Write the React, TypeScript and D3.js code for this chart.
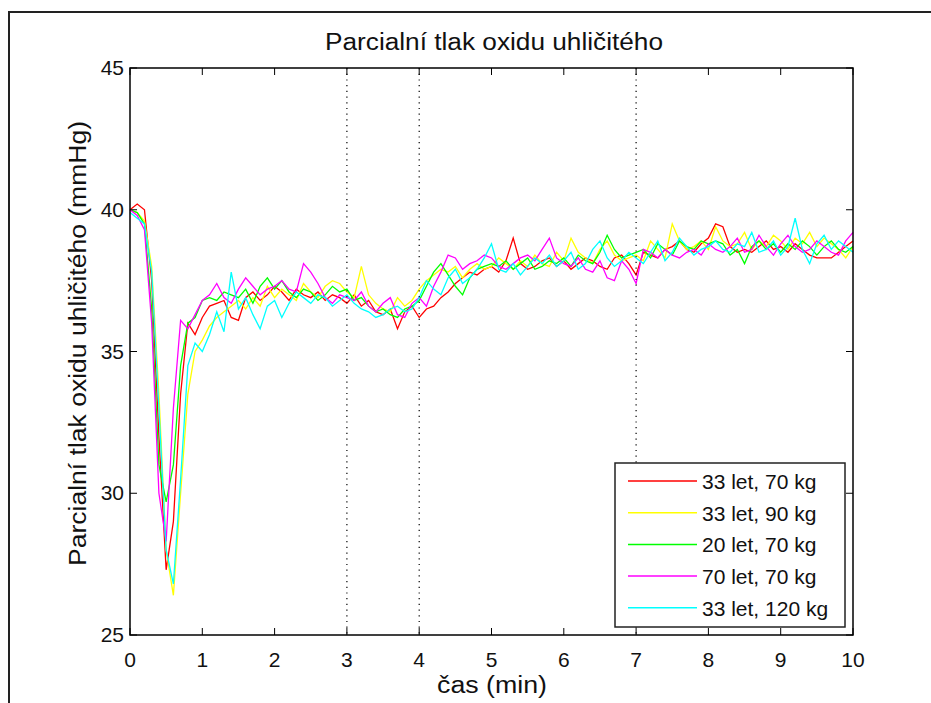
import React from "react";
import * as d3 from "d3";

// time axis: one sample every 0.1 min
const times = d3.range(0, 101).map((i) => i / 10);

const red = [
  40.0, 40.2, 40.0, 37.5, 32.0, 27.3, 29.0, 33.5, 36.0, 35.6,
  36.2, 36.6, 36.7, 36.8, 36.2, 36.1, 36.9, 37.1, 36.8, 37.0,
  37.3, 37.1, 36.8, 37.2, 37.0, 36.9, 37.1, 36.8, 37.0, 36.9,
  36.7, 37.0, 36.6, 36.8, 36.4, 36.3, 36.5, 35.8, 36.4, 36.6,
  36.2, 36.5, 36.6, 36.9, 37.1, 37.4, 37.6, 37.8, 37.7, 37.9,
  38.0, 37.8, 38.2, 39.0, 38.1, 37.9, 38.0, 38.2, 38.3, 38.0,
  38.2, 37.9, 38.1, 38.3, 38.2, 38.0, 37.9, 38.3, 38.4, 38.1,
  37.7, 38.5, 38.4, 38.3, 38.6, 38.7, 38.9, 38.6, 38.5, 38.8,
  39.0, 39.5, 39.4, 38.7, 38.5, 38.6, 38.5, 38.7, 38.9, 38.6,
  38.7, 38.5, 38.8, 38.6, 38.4, 38.3, 38.3, 38.3, 38.5, 38.7, 38.9,
];
const yellow = [
  40.0, 39.9, 39.6, 38.0, 33.5, 28.0, 26.4, 30.0, 33.5, 35.0,
  35.4, 35.9, 36.2, 36.4, 36.6, 36.8, 36.5, 36.9, 36.6, 37.3,
  36.9, 37.2, 37.0, 36.8, 37.4, 37.1, 36.9, 37.3, 37.5, 37.4,
  37.1, 36.9, 38.0, 37.0, 36.7, 36.5, 36.4, 36.9, 36.6, 36.8,
  37.2, 37.5, 37.7, 37.9, 37.8, 38.0, 37.6, 37.9, 38.1, 37.9,
  38.0, 38.3, 38.1, 37.9, 38.2, 38.0, 38.4, 38.1, 38.0, 38.5,
  38.2, 39.0, 38.5, 38.3, 38.1, 38.6, 38.9, 38.4, 38.2, 38.3,
  38.4, 38.2, 38.9, 38.6, 38.3, 39.5, 38.9, 38.6, 38.7, 38.9,
  38.6, 39.4, 38.9, 38.7, 38.8, 39.2, 38.6, 38.9, 38.7, 39.1,
  38.9, 38.6, 39.0, 38.8, 39.2, 38.7, 39.0, 38.8, 38.6, 38.3, 38.7,
];
const green = [
  40.0, 39.9, 39.5, 36.5, 31.0, 29.7, 31.0, 34.5, 36.0, 36.2,
  36.8, 36.9, 36.8, 37.1, 37.0, 36.9, 37.2, 36.7, 37.3, 37.6,
  37.2, 37.5, 37.1, 36.9, 37.2, 37.1, 36.8, 37.0, 37.3, 37.1,
  37.2, 36.8, 36.9, 36.6, 36.4, 36.5, 36.3, 36.2, 36.5, 36.6,
  36.8, 37.3, 37.8, 38.1, 37.7, 37.3, 37.0, 37.6, 37.9, 38.0,
  38.1, 38.0, 38.2, 37.9, 38.1, 38.3, 37.9, 38.0, 38.2, 38.1,
  38.3, 38.0, 38.4, 38.2, 38.1, 38.5, 39.1, 38.6, 38.3, 38.4,
  38.5, 38.6, 38.3, 38.8, 38.6, 38.4, 38.9, 38.7, 38.6, 38.9,
  38.8, 38.9, 38.8, 38.4, 38.6, 38.1, 38.7, 38.9, 38.6, 38.8,
  38.5, 38.8, 38.6, 38.9, 38.7, 38.4, 38.7, 38.9, 38.6, 38.5, 38.7,
];
const magenta = [
  40.0, 39.8, 39.3, 36.0, 30.0, 28.3, 33.0, 36.1, 35.8, 36.3,
  36.8, 37.0, 37.4, 36.9, 36.7, 37.2, 37.6, 37.3, 37.0, 37.2,
  37.3, 37.5, 37.2, 37.1, 38.1, 37.8, 37.4, 36.9, 36.7, 37.0,
  36.9, 36.8, 37.1, 36.6, 36.4, 36.7, 36.9, 36.3, 36.2, 36.7,
  36.9, 36.6, 37.3, 37.8, 38.4, 38.3, 37.9, 38.1, 38.2, 38.4,
  38.3, 38.0, 37.9, 38.1, 38.3, 38.4, 38.2, 38.6, 39.0, 38.3,
  38.1, 38.0, 38.3, 37.9, 37.8, 38.2, 37.6, 37.5, 38.2, 37.9,
  37.4, 38.6, 38.5, 38.3, 38.6, 38.4, 38.3, 38.5, 38.6, 38.4,
  38.8, 38.6, 38.5, 38.7, 39.0, 38.5, 38.6, 39.1, 38.7, 38.4,
  38.8, 39.1, 38.7, 38.5, 38.6, 38.9, 38.7, 38.5, 38.4, 38.9, 39.2,
];
const cyan = [
  39.9, 39.7, 39.5, 37.8, 33.0, 28.0, 26.8, 30.5, 34.5, 35.3,
  35.0, 35.6, 36.4, 35.7, 37.8, 36.5, 36.9, 36.3, 35.8, 36.6,
  36.8, 36.2, 36.7, 37.1, 36.9, 36.7, 37.0, 36.9, 36.6, 36.8,
  37.0, 36.7, 36.5, 36.4, 36.2, 36.3, 36.5, 36.6, 36.4, 36.5,
  36.9, 37.5, 37.2, 37.0, 37.6, 37.9, 37.4, 37.6, 37.9, 38.3,
  38.8, 37.9, 37.8, 38.1, 37.7, 38.0, 38.3, 38.1, 38.4, 38.0,
  38.2, 38.5, 37.9, 38.1, 38.6, 38.9, 38.3, 38.0, 38.2, 38.5,
  38.3, 38.1, 38.5, 38.9, 38.2, 38.5, 39.0, 38.7, 38.4, 38.6,
  38.7, 38.9, 38.6, 38.5, 38.8, 38.7, 39.2, 38.5, 38.6, 38.9,
  38.4, 38.7, 39.7, 38.6, 38.1, 38.8, 39.1, 38.6, 38.9, 38.7, 38.5,
];

const seriesNames = ["33 let, 70 kg", "33 let, 90 kg", "20 let, 70 kg", "70 let, 70 kg", "33 let, 120 kg"];
const seriesValues = [red, yellow, green, magenta, cyan];
const seriesColors = ["#ff0000", "#ffff00", "#00ff00", "#ff00ff", "#00ffff"];

const xTicks = [0, 1, 2, 3, 4, 5, 6, 7, 8, 9, 10];
const yTicks = [25, 30, 35, 40, 45];
const markerTimes = [3, 4, 7];

const title = "Parcialní tlak oxidu uhličitého";
const xLabel = "čas (min)";
const yLabel = "Parcialní tlak oxidu uhličitého (mmHg)";

const font = "'Liberation Sans', Arial, sans-serif";

export default function App() {
  const width = 931;
  const height = 703;
  const margin = { left: 130, right: 78, top: 68, bottom: 68 };
  const innerW = width - margin.left - margin.right;
  const innerH = height - margin.top - margin.bottom;

  const x = d3.scaleLinear().domain([0, 10]).range([margin.left, margin.left + innerW]);
  const y = d3.scaleLinear().domain([25, 45]).range([margin.top + innerH, margin.top]);

  const line = d3
    .line<number>()
    .x((d, i) => x(times[i]))
    .y((d) => y(d));

  const tickLen = 7;
  const axisColor = "#000";

  // legend box
  const lg = { x: 615, y: 463, w: 230, h: 164, row: 31.7 };

  return (
    <svg
      width={width}
      height={height}
      style={{ position: "absolute", left: 0, top: 0, background: "#fff" }}
      fontFamily={font}
    >
      <rect width={width} height={height} fill="#fff" />
      {/* figure frame */}
      <path d={`M9,${height} V12 H${width}`} fill="none" stroke="#222" strokeWidth={2} />

      <text x={494} y={50} textAnchor="middle" fontSize={23} textLength={338} lengthAdjust="spacingAndGlyphs" fill="#111">
        {title}
      </text>

      {/* data lines */}
      <g>
        {seriesValues.map((vals, k) => (
          <path key={k} d={line(vals) ?? ""} fill="none" stroke={seriesColors[k]} strokeWidth={1.3} />
        ))}
      </g>

      {/* dotted markers */}
      {markerTimes.map((t) => (
        <line
          key={t}
          x1={x(t)}
          x2={x(t)}
          y1={margin.top}
          y2={margin.top + innerH}
          stroke="#000"
          strokeWidth={1.2}
          strokeDasharray="1.2,4.5"
        />
      ))}

      {/* axes box */}
      <rect x={margin.left} y={margin.top} width={innerW} height={innerH} fill="none" stroke={axisColor} strokeWidth={1.5} />
      {xTicks.map((t) => (
        <g key={t}>
          <line x1={x(t)} x2={x(t)} y1={margin.top + innerH} y2={margin.top + innerH - tickLen} stroke={axisColor} />
          <line x1={x(t)} x2={x(t)} y1={margin.top} y2={margin.top + tickLen} stroke={axisColor} />
          <text x={x(t)} y={margin.top + innerH + 32} textAnchor="middle" fontSize={21} fill="#111">
            {t}
          </text>
        </g>
      ))}
      {yTicks.map((t) => (
        <g key={t}>
          <line x1={margin.left} x2={margin.left + tickLen} y1={y(t)} y2={y(t)} stroke={axisColor} />
          <line x1={margin.left + innerW} x2={margin.left + innerW - tickLen} y1={y(t)} y2={y(t)} stroke={axisColor} />
          <text x={margin.left - 6} y={y(t) + 7} textAnchor="end" fontSize={21} fill="#111">
            {t}
          </text>
        </g>
      ))}

      <text x={492} y={693} textAnchor="middle" fontSize={23} textLength={110} lengthAdjust="spacingAndGlyphs" fill="#111">
        {xLabel}
      </text>
      <text
        transform={`translate(86, ${(margin.top + margin.top + innerH) / 2 - 8}) rotate(-90)`}
        textAnchor="middle"
        fontSize={23}
        textLength={445}
        lengthAdjust="spacingAndGlyphs"
        fill="#111"
      >
        {yLabel}
      </text>

      {/* legend */}
      <g>
        <rect x={lg.x} y={lg.y} width={lg.w} height={lg.h} fill="#fff" stroke="#222" strokeWidth={1.5} />
        {seriesNames.map((name, k) => {
          const yy = lg.y + 18 + k * lg.row;
          return (
            <g key={name}>
              <line x1={lg.x + 13} x2={lg.x + 82} y1={yy} y2={yy} stroke={seriesColors[k]} strokeWidth={1.5} />
              <text x={lg.x + 87} y={yy + 8} fontSize={21} fill="#111">
                {name}
              </text>
            </g>
          );
        })}
      </g>
    </svg>
  );
}
